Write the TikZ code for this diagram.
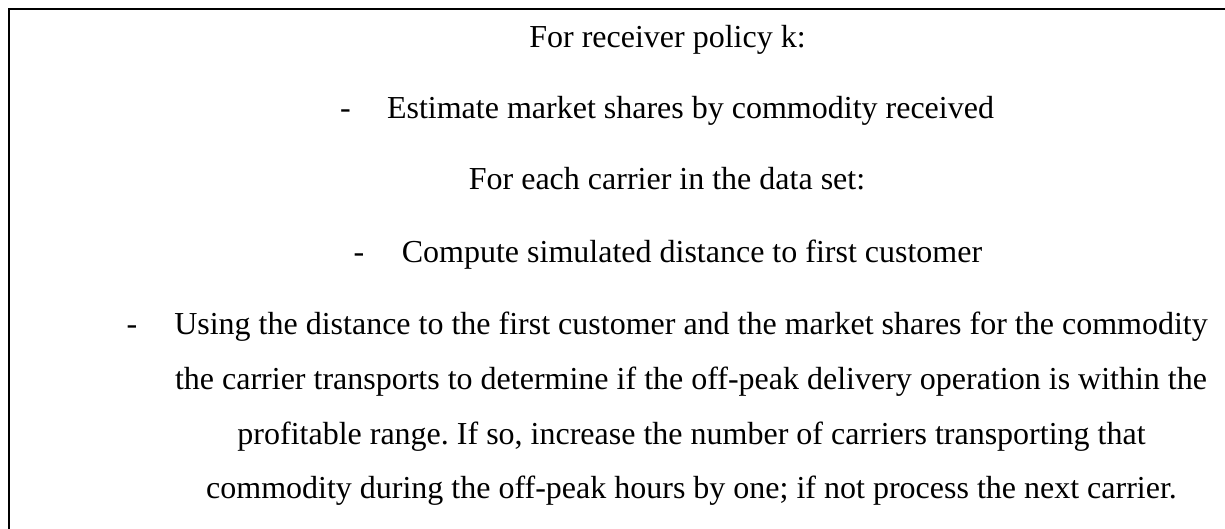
\documentclass[tikz,border=0pt]{standalone}
\usepackage{fontspec}
\setmainfont{Liberation Serif}
\frenchspacing
\begin{document}
\begin{tikzpicture}[x=1pt,y=-1pt,
  txt/.style={anchor=base,inner sep=0pt,font=\fontsize{32}{38}\selectfont},
  dashmark/.style={anchor=base west,inner sep=0pt,font=\fontsize{32}{38}\selectfont},
  frame/.style={line width=2pt,black}]
\useasboundingbox (0,0) rectangle (1225,529);
\coordinate (bl) at (9,529);
\coordinate (tl) at (9,9);
\coordinate (tr) at (1225,9);
\draw[frame,line join=miter] (bl) -- (tl) -- (tr);
\node[txt] (l1) at (667.5,48) {For receiver policy k:};
\node[dashmark] (d2) at (340,119) {-};
\node[txt] (l2) at (690.5,119) {Estimate market shares by commodity received};
\node[txt] (l3) at (667,190) {For each carrier in the data set:};
\node[dashmark] (d4) at (353.5,262) {-};
\node[txt] (l4) at (692,262) {Compute simulated distance to first customer};
\node[dashmark] (d5) at (126.5,334) {-};
\node[txt] (l5) at (691,334) {Using the distance to the first customer and the market shares for the commodity};
\node[txt] (l6) at (691,389) {the carrier transports to determine if the off-peak delivery operation is within the};
\node[txt] (l7) at (691.5,444) {profitable range. If so, increase the number of carriers transporting that};
\node[txt] (l8) at (691.5,498) {commodity during the off-peak hours by one; if not process the next carrier.};
\end{tikzpicture}
\end{document}
